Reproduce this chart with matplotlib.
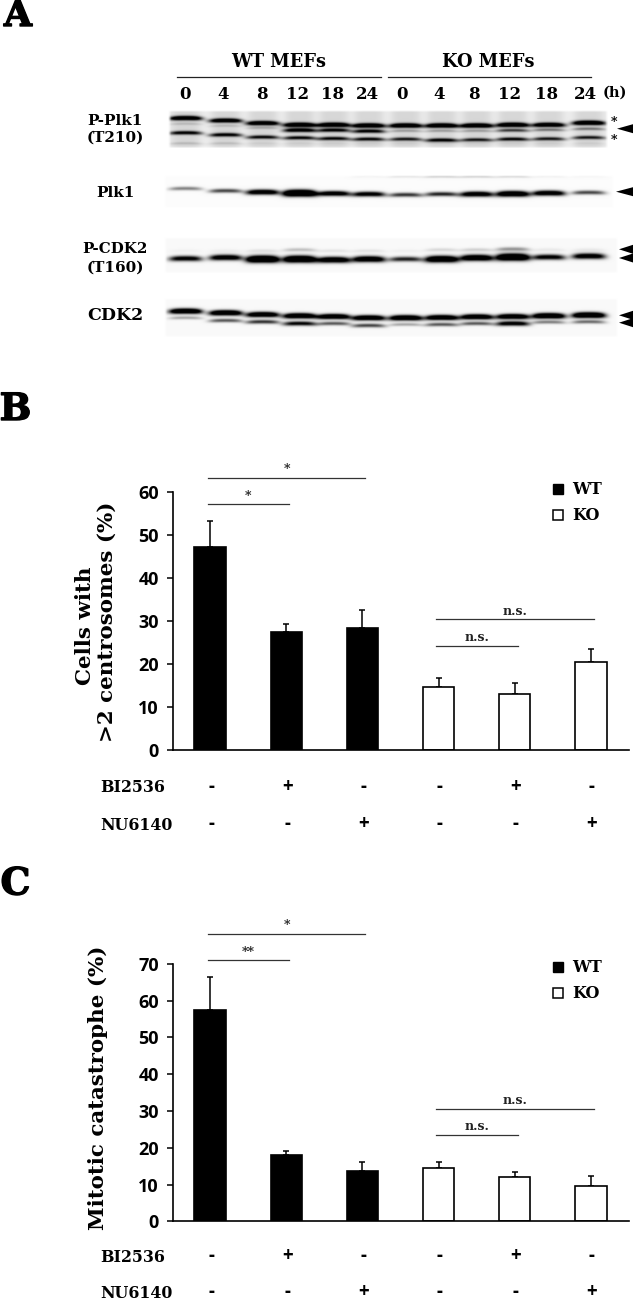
import numpy as np
import matplotlib
matplotlib.use("Agg")
import matplotlib.pyplot as plt
import matplotlib.patheffects as pe
from matplotlib.patches import Polygon

W, H = 633, 1300
SERIF = "DejaVu Serif"
SANS = "Open Sans"

lanes = [185, 225, 262, 299, 333, 368, 405, 441, 476, 512, 548, 588]
times = ["0", "4", "8", "12", "18", "24", "0", "4", "8", "12", "18", "24"]
time_x = [185, 223, 262, 298, 333, 367, 402, 439, 474, 510, 547, 585]

pplk_top_y = [118.3, 120.7, 123.3, 125, 125, 125.7, 125.7, 125.7, 125.7, 125, 125, 123]
pplk_top_i = [0.85, 0.8, 0.85, 0.9, 0.9, 0.9, 0.9, 0.9, 0.9, 0.9, 0.85, 0.9]
pplk_mid_y = [124, 126, 128, 130.3, 130.3, 131.3, 131, 131, 131, 130.5, 130, 129]
pplk_mid_i = [0.08, 0.08, 0.12, 0.7, 0.6, 0.6, 0.15, 0.15, 0.15, 0.4, 0.25, 0.25]
pplk_low_y = [133, 135, 137.3, 138, 138.7, 139.3, 139.3, 140.3, 140, 139.3, 139, 137.7]
pplk_low_i = [0.6, 0.6, 0.55, 0.55, 0.55, 0.55, 0.5, 0.6, 0.5, 0.55, 0.5, 0.5]
pplk_faint_y = [143.5] * 12
pplk_faint_i = [0.08, 0.07, 0.03, 0.03, 0.03, 0.03, 0.03, 0.03, 0.03, 0.03, 0.03, 0.03]

plk_y = [188.7, 191, 192.3, 193.3, 193.7, 194.3, 195, 194.3, 194.3, 194, 193.3, 192.7]
plk_i = [0.3, 0.45, 0.85, 1.3, 0.8, 0.75, 0.5, 0.55, 0.85, 1.0, 0.85, 0.45]
plk_top_y = [176] * 12
plk_top_i = [0, 0, 0, 0, 0, 0.04, 0.1, 0.18, 0.18, 0.15, 0.05, 0.03]

pcdk_y = [258.7, 257.7, 259.3, 259.3, 260, 259.3, 259.3, 259.3, 258, 257.3, 257.3, 256.3]
pcdk_i = [0.7, 0.8, 1.2, 1.15, 0.9, 0.9, 0.55, 1.05, 0.95, 1.2, 0.7, 0.8]
pcdk_up_y = [251, 251, 251, 250, 251, 251, 251, 250, 250, 249.3, 250, 250]
pcdk_up_i = [0.02, 0.03, 0.06, 0.14, 0.05, 0.05, 0.02, 0.08, 0.1, 0.25, 0.04, 0.04]

cdk_y = [311.3, 313, 314.7, 316, 316.7, 318, 318, 317.7, 317, 316.7, 316, 315.3]
cdk_i = [1.0, 1.0, 0.95, 1.0, 0.95, 0.95, 1.0, 0.95, 0.95, 0.95, 1.05, 1.1]
cdk_low_y = [318, 320.7, 322, 323.7, 323.7, 325.7, 324.7, 324.7, 323.7, 323.7, 322.3, 322]
cdk_low_i = [0.2, 0.4, 0.5, 0.65, 0.4, 0.45, 0.2, 0.4, 0.4, 0.75, 0.3, 0.35]

# --- panel B ---
wt_ko = ["WT", "WT", "WT", "KO", "KO", "KO"]
bi2536 = ["-", "+", "-", "-", "+", "-"]
nu6140 = ["-", "-", "+", "-", "-", "+"]
centro_vals = [47.2, 27.4, 28.4, 14.6, 13.0, 20.5]
centro_tops = [53.3, 29.3, 32.5, 16.8, 15.6, 23.5]
# start bar, end bar, height, label
centro_sig = [(0, 2, 63.4, "*"), (0, 1, 57.2, "*"), (3, 5, 30.4, "n.s."), (3, 4, 24.3, "n.s.")]

# --- panel C ---
cat_vals = [57.3, 18.1, 13.6, 14.6, 12.1, 9.5]
cat_tops = [66.3, 19.2, 16.2, 16.2, 13.5, 12.2]
cat_sig = [(0, 2, 78.1, "*"), (0, 1, 70.9, "**"), (3, 5, 30.6, "n.s."), (3, 4, 23.5, "n.s.")]

fig = plt.figure(figsize=(W / 100, H / 100), dpi=100, facecolor="white")
page = fig.add_axes([0, 0, 1, 1])
page.set_xlim(0, W)
page.set_ylim(H, 0)
page.axis("off")


def blot(x0, x1, y0, y1, bg, band_sets, lane_shade=0.0, hw=16.5, thin=1.0):
    # paint gaussian-ish bands on a grey strip
    xs = np.arange(x0, x1, 0.5)
    ys = np.arange(y0, y1, 0.5)
    xx, yy = np.meshgrid(xs, ys)
    dark = np.zeros_like(xx)
    for cx in lanes:
        dark += lane_shade * np.exp(-((xx - cx) / 15.0) ** 4)
    for band_y, band_i in band_sets:
        for cx, by, bi in zip(lanes, band_y, band_i):
            u = (xx - cx) / hw
            sigma = (1.7 + 1.5 * bi) * thin
            dark += bi * 1.6 * np.exp(-u ** 4) * np.exp(-((yy - by + 0.5 * (1 - u ** 2)) / sigma) ** 2)
    edge = np.clip((xx - x0) / 3, 0, 1) * np.clip((x1 - xx) / 3, 0, 1)
    edge = edge * np.clip((yy - y0) / 2, 0, 1) * np.clip((y1 - yy) / 2, 0, 1)
    img = 1 - edge * (1 - bg) - dark * edge
    page.imshow(np.clip(img, 0, 1), cmap="gray", vmin=0, vmax=1, extent=(x0, x1, y1, y0),
                interpolation="bilinear", aspect="auto", zorder=1)


blot(167.5, 607.5, 110, 148, 0.93,
     [(pplk_top_y, pplk_top_i), (pplk_mid_y, pplk_mid_i), (pplk_low_y, pplk_low_i), (pplk_faint_y, pplk_faint_i)],
     lane_shade=0.09, thin=0.7)
blot(163.5, 613.5, 175, 208, 0.985, [(plk_y, plk_i), (plk_top_y, plk_top_i)], thin=0.85)
blot(163.5, 617.5, 237, 273, 0.975, [(pcdk_y, pcdk_i), (pcdk_up_y, pcdk_up_i)], thin=0.95)
blot(163.5, 617.5, 298, 337, 0.975, [(cdk_y, cdk_i), (cdk_low_y, cdk_low_i)], thin=0.8)
page.set_xlim(0, W)
page.set_ylim(H, 0)


def txt(x, y, s, size, family=SERIF, ha="center", rot=0, weight="bold", heavy=0):
    t = page.text(x, y, s, fontsize=size, family=family, fontweight=weight, ha=ha, va="center",
                  rotation=rot, color="black", zorder=5)
    if heavy:
        t.set_path_effects([pe.withStroke(linewidth=heavy, foreground="black")])


def arrow(tip_x, y):
    page.add_patch(Polygon([(tip_x, y), (633, y - 4.5), (633, y + 4.5)], closed=True, fc="black", ec="none", zorder=5))


txt(18, 16, "A", 26, heavy=1)
txt(15.5, 409.5, "B", 27, heavy=1)
txt(15.5, 884, "C", 27, heavy=1)

txt(279, 62, "WT MEFs", 12.8)
txt(488.5, 62, "KO MEFs", 12.8)
page.plot([177, 380.5], [76.7, 76.7], color="#222222", lw=0.9, zorder=5)
page.plot([387.5, 590.5], [76.7, 76.7], color="#222222", lw=0.9, zorder=5)
for tx, t in zip(time_x, times):
    txt(tx, 94.7, t, 12)
txt(615, 92.5, "(h)", 10.5)

txt(115, 120.7, "P-Plk1", 11)
txt(115, 137.3, "(T210)", 11)
txt(115, 192.7, "Plk1", 11)
txt(115, 249.3, "P-CDK2", 10.8)
txt(115, 267.3, "(T160)", 11)
txt(115, 315.7, "CDK2", 12.5)
txt(614, 123, "*", 9)
txt(614, 140, "*", 9)
arrow(617, 128.7)
arrow(616, 191.7)
arrow(619, 249.3)
arrow(619, 258)
arrow(619, 315.3)
arrow(619, 322.7)


def bar_panel(top, bottom, ymax, vals, tops, sig, ylabels, row_y, leg_y):
    ax = fig.add_axes([172.8 / W, 1 - bottom / H, (629 - 172.8) / W, (bottom - top) / H])
    ax.patch.set_alpha(0)
    x = np.arange(len(vals))
    colors = ["black" if g == "WT" else "white" for g in wt_ko]
    err = np.array(tops) - np.array(vals)
    ax.errorbar(x, vals, yerr=[np.zeros(len(vals)), err], fmt="none", ecolor="black",
                elinewidth=1.1, capsize=2.2, capthick=1.1, zorder=1)
    ax.bar(x, vals, width=0.41, color=colors, edgecolor="black", linewidth=1.2, zorder=2)
    ax.set_xlim(-0.488, 5.5)
    ax.set_ylim(0, ymax)
    ax.set_xticks([])
    ax.set_yticks(np.arange(0, ymax + 1, 10))
    ax.tick_params(axis="y", length=4, width=1.1, pad=6)
    for lab in ax.get_yticklabels():
        lab.set_fontfamily(SANS)
        lab.set_fontweight("bold")
        lab.set_fontsize(13)
    for side in ["top", "right"]:
        ax.spines[side].set_visible(False)
    for side in ["left", "bottom"]:
        ax.spines[side].set_linewidth(1.2)
    for start, end, h, label in sig:
        ax.plot([start - 0.03, end + 0.04], [h, h], color="#333333", lw=0.9, clip_on=False)
        ty = h + 8 * ymax / (bottom - top)
        ax.text((start + end) / 2 + 0.005, ty, label, fontsize=9, family=SERIF, fontweight="bold",
                ha="center", va="center", clip_on=False, color="#222222")
    # treatment rows and y labels sit outside the axes
    for name, marks, ry in zip(["BI2536", "NU6140"], [bi2536, nu6140], row_y):
        txt(100, ry, name, 11.4, ha="left")
        for i, m in enumerate(marks):
            px = 172.8 + (i + 0.488) * (629 - 172.8) / 5.988
            txt(px + 1, ry - 1, m, 13.5, family=SANS)
    for lx, ly, s in ylabels:
        txt(lx, ly, s, 15.4, rot=90)
    page.plot([557.5], [leg_y[0]], "s", ms=7, color="black", mec="black", zorder=5)
    page.plot([557.5], [leg_y[1]], "s", ms=6.5, color="white", mec="black", mew=1.1, zorder=5)
    txt(572, leg_y[0] + 0.5, "WT", 11.5, ha="left")
    txt(572, leg_y[1] + 1, "KO", 11.5, ha="left")


bar_panel(492.3, 750, 60, centro_vals, centro_tops, centro_sig,
          [(85, 626, "Cells with"), (107, 622, ">2 centrosomes (%)")], [788, 825], [489, 515])
bar_panel(963.7, 1221.3, 70, cat_vals, cat_tops, cat_sig,
          [(98, 1088, "Mitotic catastrophe (%)")], [1257.3, 1293.3], [966.7, 992.7])

fig.savefig("out.png", dpi=100)
